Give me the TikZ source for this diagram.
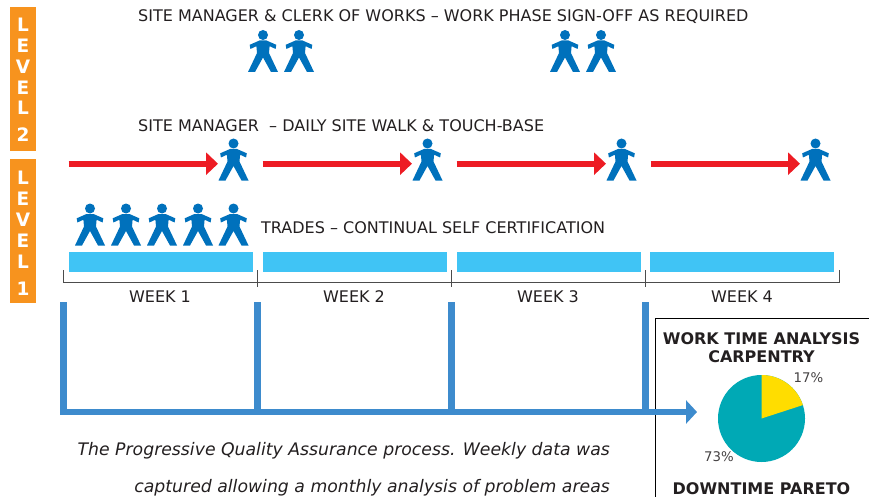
\documentclass[tikz,border=0pt]{standalone}
\usepackage{fontspec}
\setmainfont{DejaVu Sans}
\usetikzlibrary{arrows.meta}
\definecolor{orng}{HTML}{F7931E}
\definecolor{pers}{HTML}{0071BC}
\definecolor{redar}{HTML}{ED1C24}
\definecolor{cyanbar}{HTML}{40C4F5}
\definecolor{bluear}{HTML}{3D8BCD}
\definecolor{tealpie}{HTML}{00A9B5}
\definecolor{yelpie}{HTML}{FFDD00}
\definecolor{txt}{HTML}{231F20}
\tikzset{
  x=1pt,y=-1pt,
  lbl/.style={inner sep=0pt,text=txt,font=\fontsize{16}{18}\selectfont,anchor=base west},
  wk/.style={inner sep=0pt,text=txt,font=\fontsize{16}{18}\selectfont,anchor=base},
  ttl/.style={inner sep=0pt,text=txt,font=\fontsize{16}{18}\selectfont\bfseries,anchor=base},
  pct/.style={inner sep=0pt,text=txt!85,font=\fontsize{13.3}{15}\selectfont,anchor=base},
  captext/.style={inner sep=0pt,text=txt,font=\fontsize{17.27}{20}\selectfont\itshape,anchor=base east},
  lvlbox/.style={fill=orng,draw=none},
  lvltxt/.style={inner sep=0pt,text=white,font=\fontsize{18.5}{20}\selectfont\bfseries,anchor=base},
  bar/.style={fill=cyanbar,draw=none},
  redarrow/.style={draw=redar,line width=6pt,-{Triangle[length=12pt,width=22pt]}},
  blueline/.style={draw=bluear,line width=6.5pt},
  bluearrow/.style={draw=bluear,line width=6.5pt,-{Triangle[length=11pt,width=23pt]}},
  brk/.style={draw=black!70,line width=1pt},
  person/.pic={
    \fill[pers] (0,0) circle (5);
    \fill[pers] (-3.5,5.5) -- (3.5,5.5) -- (13.3,9.8) -- (12.6,14) -- (6.6,11.2)
      -- (6,18) -- (15,37) -- (8,37) -- (0,22.5) -- (-8,37) -- (-15,37)
      -- (-6,18) -- (-6.6,11.2) -- (-12.6,14) -- (-13.3,9.8) -- cycle;
  }
}
\begin{document}
\begin{tikzpicture}
\useasboundingbox (0,0) rectangle (869,497);
% level boxes
\fill[lvlbox] (10,7) rectangle (36,151);
\fill[lvlbox] (10,159) rectangle (36,303);
\foreach \t/\y in {L/32,E/53,V/74,E/95,L/115,2/142,L/184,E/205,V/226,E/247,L/268,1/295}
  \node[lvltxt] at (23,\y) {\t};
% headings
\node[lbl] (h1) at (138,21.5) {SITE MANAGER \& CLERK OF WORKS – WORK PHASE SIGN-OFF AS REQUIRED};
\node[lbl] (h2) at (138,132) {SITE MANAGER \ – DAILY SITE WALK \& TOUCH-BASE};
\node[lbl] (h3) at (261,233) {TRADES – CONTINUAL SELF CERTIFICATION};
% people
\foreach \x in {263,299,565,601} \pic at (\x,35) {person};
\foreach \x in {233.5,427.5,621.5,815.5} \pic at (\x,143.5) {person};
\foreach \x in {90,126,162,198,233.5} \pic at (\x,208.5) {person};
% red arrows
\foreach \i/\a/\b in {1/68.5/218,2/262.5/412,3/456.5/606,4/650.5/800}{
  \coordinate (rs\i) at (\a,163.7);
  \coordinate (re\i) at (\b,163.7);
  \draw[redarrow] (rs\i) -- (re\i);
}
% bars
\foreach \a in {68.5,262.5,456.5,650}
  \fill[bar] (\a,252) rectangle ++(184,20);
% bracket
\draw[brk] (63.5,270) -- (63.5,282) -- (839.5,282) -- (839.5,270);
\foreach \x in {257.5,451.5,645.5} \draw[brk] (\x,270) -- (\x,287);
% week labels
\foreach \t/\x in {1/160,2/354,3/548,4/742}
  \node[wk] at (\x,302) {WEEK \t};
% panel
\draw[black,line width=1pt] (655.5,497) -- (655.5,318.5) -- (869,318.5);
% blue lines
\foreach \i/\x in {1/63.5,2/257.5,3/451.5,4/645.5}{
  \coordinate (bt\i) at (\x,302);
  \coordinate (bb\i) at (\x,412);
  \draw[blueline] (bt\i) -- (bb\i);
}
\coordinate (bs) at (60.25,412);
\coordinate (be) at (697,412);
\draw[bluearrow] (bs) -- (be);
% panel text
\node[ttl] (t1) at (761.5,344) {WORK TIME ANALYSIS};
\node[ttl] (t2) at (761.5,362) {CARPENTRY};
\node[ttl] (t3) at (761.5,494) {DOWNTIME PARETO};
% pie
\coordinate (pc) at (761.5,418.5);
\fill[tealpie] (pc) circle (43.5);
\fill[yelpie] (pc) -- (761.5,375) arc[start angle=-90,end angle=-18,radius=43.5] -- cycle;
\node[pct] (p1) at (808.5,382) {17\%};
\node[pct] (p2) at (719,461) {73\%};
% caption
\node[captext] (c1) at (610,455) {The Progressive Quality Assurance process. Weekly data was};
\node[captext] (c2) at (610,492) {captured allowing a monthly analysis of problem areas};
\end{tikzpicture}
\end{document}
